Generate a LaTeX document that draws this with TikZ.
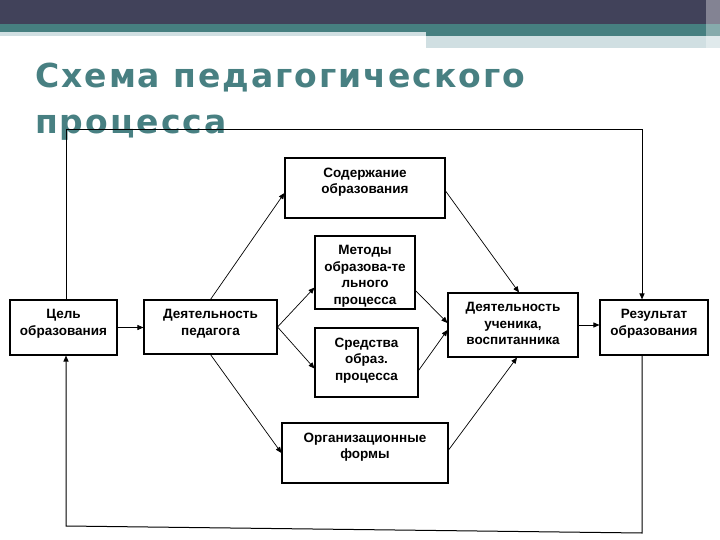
\documentclass[tikz,border=0pt]{standalone}
\usepackage{fontspec}
\setmainfont{Liberation Sans}
\newfontfamily\titlefont[LetterSpace=6]{DejaVu Sans}
\usetikzlibrary{arrows.meta,calc}

\definecolor{bandgrey}{RGB}{65,66,90}
\definecolor{bandteal}{RGB}{70,127,128}
\definecolor{bandlight}{RGB}{208,223,226}
\definecolor{titleteal}{RGB}{72,128,130}

\tikzset{
  box/.style={draw, line width=1.1pt, inner sep=0pt},
  lbl/.style={anchor=north, align=center, inner sep=0pt, yshift=-10pt,
              font=\bfseries\fontsize{13.5}{16.5}\selectfont},
  conn/.style={-{Triangle[length=6pt,width=5pt]}, line width=0.7pt},
  backline/.style={conn, line width=1pt}
}

\begin{document}
\begin{tikzpicture}[x=1pt, y=-1pt]
    \useasboundingbox (0,0) rectangle (720,540);
    \fill[white] (0,0) rectangle (720,540);

    % top bands
    \fill[bandgrey] (0,0) rectangle (720,24);
    \fill[bandteal] (0,24) rectangle (720,32);
    \fill[bandteal] (426,32) rectangle (720,36);
    \fill[bandlight] (0,32) rectangle (426,36);
    \fill[bandlight] (426,36) rectangle (720,48);
    \fill[white, opacity=0.35] (706,0) rectangle (720,48);

    % title
    \node[anchor=north west, inner sep=0pt, align=left, text=titleteal,
          font=\titlefont\bfseries\fontsize{33}{46}\selectfont] (title) at (35,63)
          {Схема педагогического\\процесса};

    % boxes
    \node[box, minimum width=107, minimum height=55,
          label={[lbl]north:{Цель\\образования}}] (cel) at (63.5,327.5) {};
    \node[box, minimum width=133, minimum height=54,
          label={[lbl]north:{Деятельность\\педагога}}] (ped) at (210.5,327) {};
    \node[box, minimum width=160, minimum height=60,
          label={[lbl]north:{Содержание\\образования}}] (sod) at (365,188) {};
    \node[box, minimum width=100, minimum height=73,
          label={[lbl]north:{Методы\\образова-те\\льного\\процесса}}] (met) at (365,272.5) {};
    \node[box, minimum width=103, minimum height=69,
          label={[lbl]north:{Средства\\образ.\\процесса}}] (sred) at (366.5,362.5) {};
    \node[box, minimum width=166, minimum height=60,
          label={[lbl]north:{Организационные\\формы}}] (org) at (365,453) {};
    \node[box, minimum width=130, minimum height=64,
          label={[lbl]north:{Деятельность\\ученика,\\воспитанника}}] (uch) at (513,325) {};
    \node[box, minimum width=108, minimum height=55,
          label={[lbl]north:{Результат\\образования}}] (rez) at (654,327.5) {};

    % arrows
    \draw[conn] (cel.east) -- (cel.east -| ped.west);
    \draw[conn] (ped.north) -- ($(sod.west)+(0,5)$);
    \draw[conn] (ped.east) -- ($(met.south west)+(0,-22)$);
    \draw[conn] (ped.east) -- ($(sred.west)+(0,6)$);
    \draw[conn] (ped.south) -- (org.west);
    \draw[conn] ($(sod.east)+(0,3)$) -- ($(uch.north)+(6,0)$);
    \draw[conn] ($(met.south east)+(0,-19)$) -- ($(uch.west)+(0,-2)$);
    \draw[conn] ($(sred.east)+(0,8)$) -- ($(uch.west)+(0,5)$);
    \draw[conn] ($(org.east)+(0,-3)$) -- ($(uch.south)+(4,0)$);
    \draw[conn] (uch.east) -- (uch.east -| rez.west);

    % feedback loop
    \coordinate (tl) at (66,130);
    \coordinate (tr) at (642,130);
    \coordinate (br) at (642,533);
    \coordinate (bl) at (66,526);
    \draw[backline] (tl |- cel.north) -- (tl) -- (tr) -- (tr |- rez.north);
    \draw[backline] (br |- rez.south) -- (br) -- (bl) -- (bl |- cel.south);
\end{tikzpicture}
\end{document}
